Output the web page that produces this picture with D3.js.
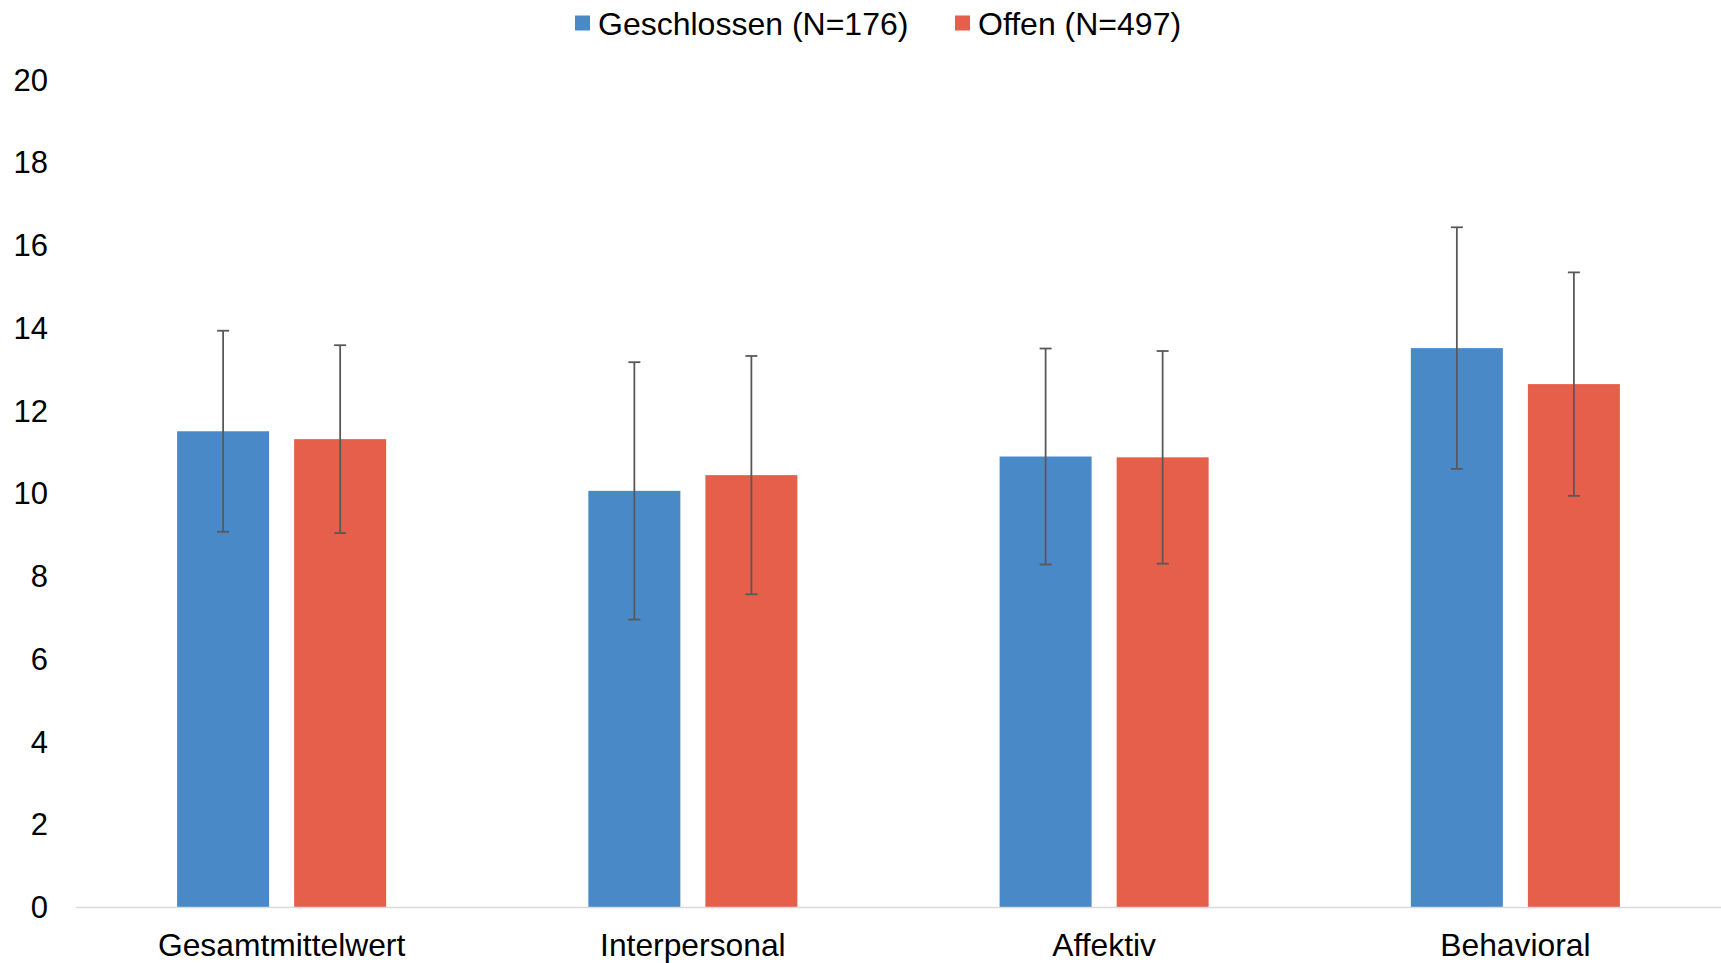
<!DOCTYPE html>
<html>
<head>
<meta charset="utf-8">
<script src="https://cdn.jsdelivr.net/npm/d3@7/dist/d3.min.js"></script>
<style>
  html, body { margin: 0; padding: 0; background: #fff; }
  svg { display: block; font-family: "Liberation Sans", Arial, sans-serif; }
</style>
</head>
<body>
<svg id="chart" width="1721" height="963"></svg>
<script>
const categories = ["Gesamtmittelwert", "Interpersonal", "Affektiv", "Behavioral"];
const seriesNames = ["Geschlossen (N=176)", "Offen (N=497)"];
const geschlossenMean = [11.51, 10.07, 10.90, 13.52];
const geschlossenSD   = [2.43, 3.11, 2.61, 2.92];
const offenMean = [11.32, 10.45, 10.88, 12.65];
const offenSD   = [2.27, 2.88, 2.57, 2.70];
const yTicks = [0, 2, 4, 6, 8, 10, 12, 14, 16, 18, 20];

(function () {
const colors = ["#4a89c8", "#e65f4b"];
const seriesData = [
  { name: seriesNames[0], mean: geschlossenMean, sd: geschlossenSD, color: colors[0] },
  { name: seriesNames[1], mean: offenMean, sd: offenSD, color: colors[1] }
];

const svg = d3.select("#chart");
const mLeft = 76, mRight = 1721, mTop = 80, mBottom = 907.5;

const x0 = d3.scaleBand().domain(categories).range([mLeft, mRight]).paddingInner(0).paddingOuter(0);
const x1 = d3.scaleBand().domain(seriesNames).range([0, x0.bandwidth()])
  .paddingInner(25 / 117).paddingOuter(0.864);
const y = d3.scaleLinear().domain([0, 20]).range([mBottom, mTop]);

// y tick labels (no gridlines)
svg.append("g").selectAll("text").data(yTicks).join("text")
  .attr("x", 48).attr("y", d => y(d))
  .attr("text-anchor", "end").attr("dominant-baseline", "central")
  .attr("font-size", 31).attr("fill", "#000")
  .text(d => d);

// bars
const groups = svg.append("g").selectAll("g").data(categories).join("g")
  .attr("transform", d => `translate(${x0(d)},0)`);

seriesData.forEach((s) => {
  groups.append("rect")
    .attr("x", x1(s.name))
    .attr("width", x1.bandwidth())
    .attr("y", (d, i) => y(s.mean[i]))
    .attr("height", (d, i) => y(0) - y(s.mean[i]))
    .attr("fill", s.color);
});

// x axis line
svg.append("line").attr("x1", mLeft).attr("x2", mRight).attr("y1", mBottom).attr("y2", mBottom)
  .attr("stroke", "#d9d9d9").attr("stroke-width", 1.5);

// error bars
const capW = 6;
seriesData.forEach((s) => {
  const g = groups.append("g").attr("stroke", "#595959").attr("stroke-width", 1.8);
  const cx = x1(s.name) + x1.bandwidth() / 2;
  g.append("line").attr("x1", cx).attr("x2", cx)
    .attr("y1", (d, i) => y(s.mean[i] + s.sd[i]))
    .attr("y2", (d, i) => y(s.mean[i] - s.sd[i]));
  g.append("line").attr("x1", cx - capW).attr("x2", cx + capW)
    .attr("y1", (d, i) => y(s.mean[i] + s.sd[i]))
    .attr("y2", (d, i) => y(s.mean[i] + s.sd[i]));
  g.append("line").attr("x1", cx - capW).attr("x2", cx + capW)
    .attr("y1", (d, i) => y(s.mean[i] - s.sd[i]))
    .attr("y2", (d, i) => y(s.mean[i] - s.sd[i]));
});

// category labels
svg.append("g").selectAll("text").data(categories).join("text")
  .attr("x", d => x0(d) + x0.bandwidth() / 2).attr("y", 956)
  .attr("text-anchor", "middle").attr("font-size", 31.8).attr("fill", "#000")
  .text(d => d);

// legend
const legendX = [575, 955];
const legend = svg.append("g").selectAll("g").data(seriesData).join("g")
  .attr("transform", (d, i) => `translate(${legendX[i]},0)`);
legend.append("rect").attr("x", 0).attr("y", 15.5).attr("width", 15).attr("height", 15)
  .attr("fill", d => d.color);
legend.append("text").attr("x", 23).attr("y", 34.5)
  .attr("font-size", 32).attr("fill", "#000").text(d => d.name);
})();
</script>
</body>
</html>
